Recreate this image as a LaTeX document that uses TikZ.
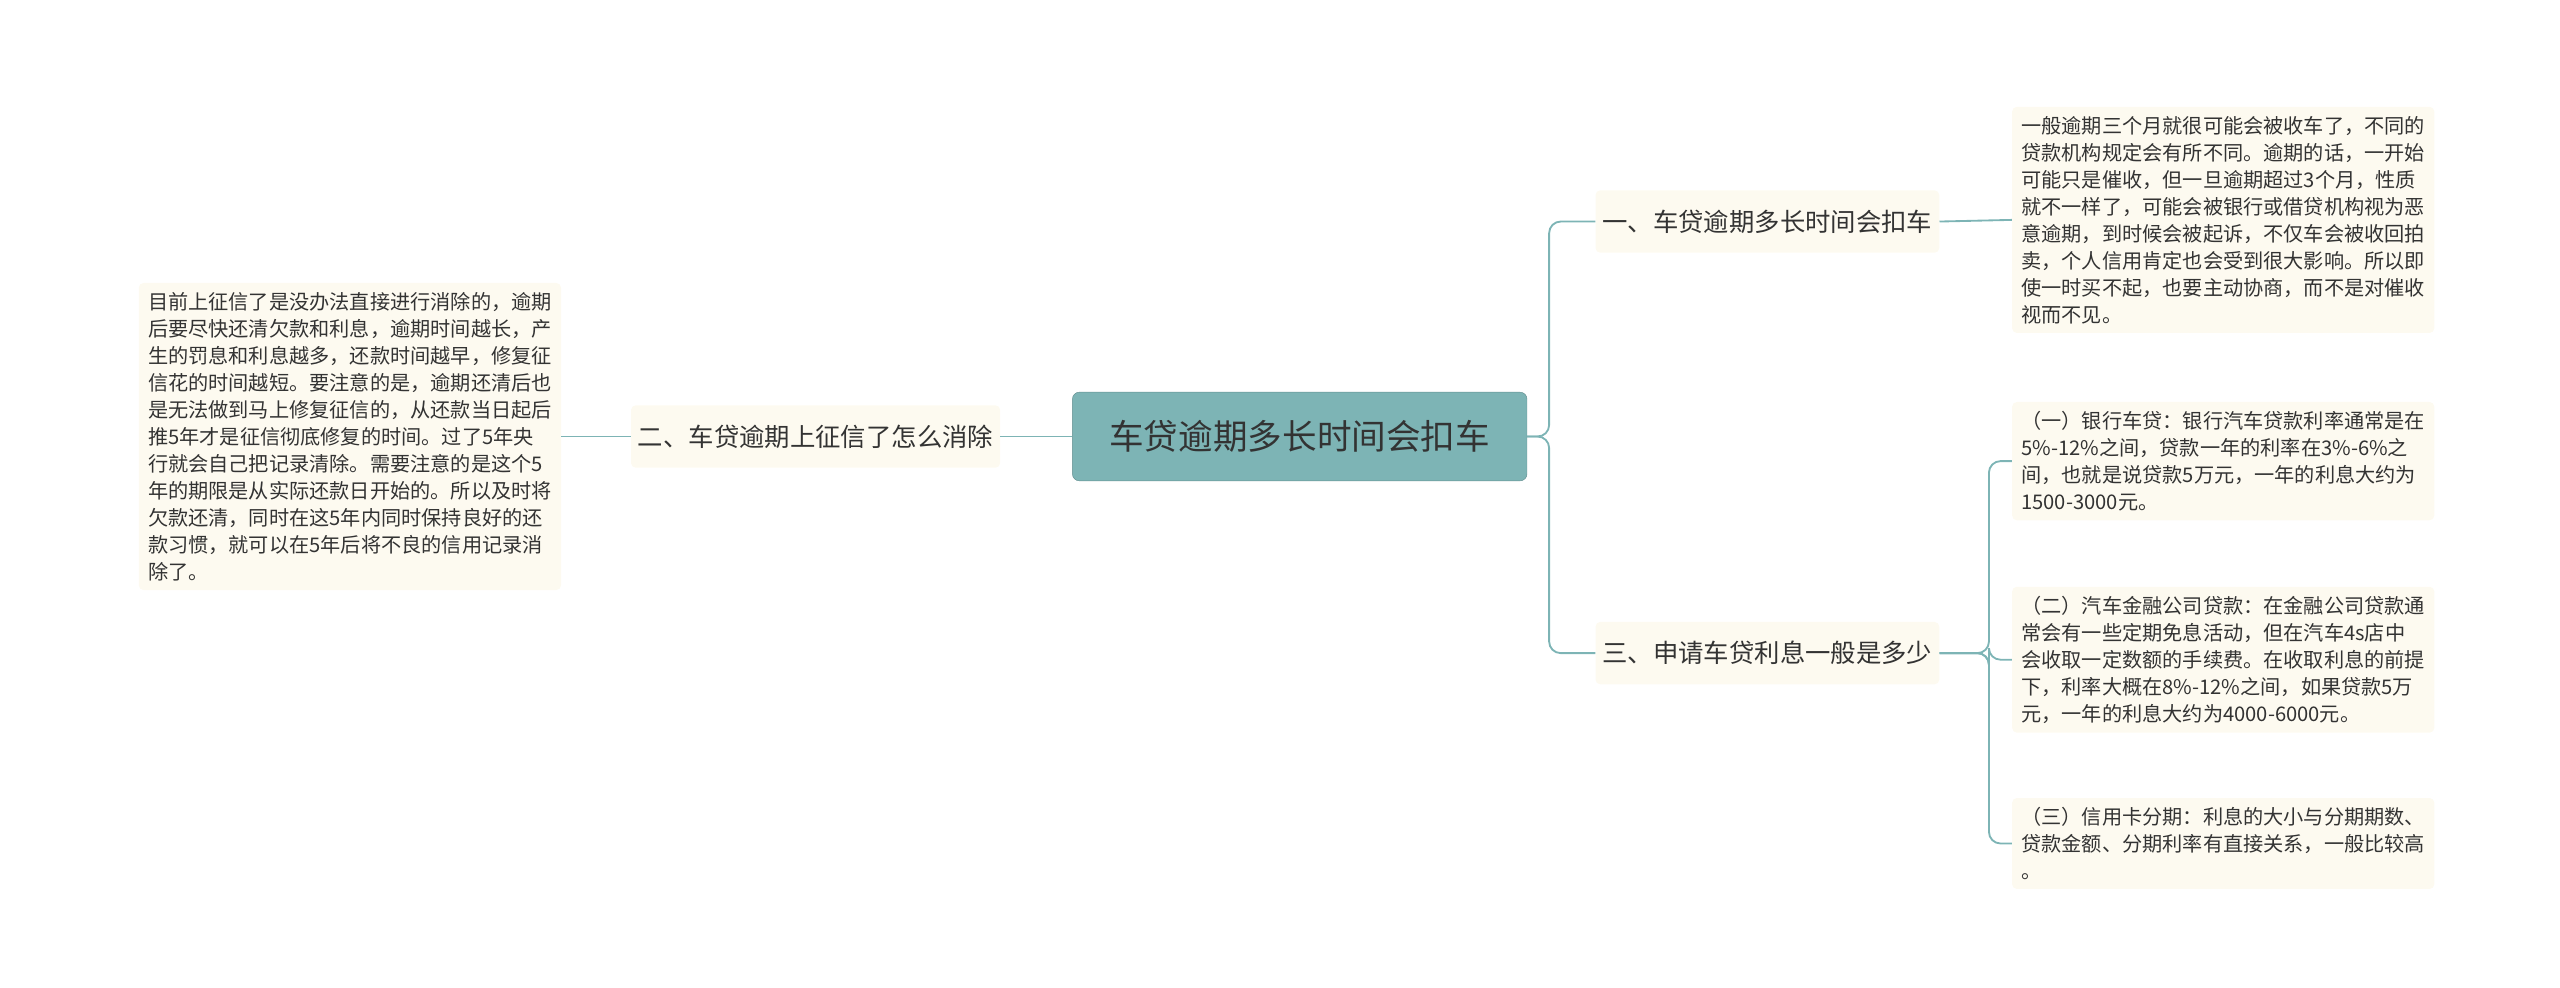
\documentclass[tikz,border=0pt]{standalone}
\usepackage{fontspec}
\setmainfont{Noto Sans CJK SC}
\usetikzlibrary{positioning}
\definecolor{teal1}{HTML}{7DB4B5}
\definecolor{cream}{HTML}{FDFAF0}
\definecolor{ink}{HTML}{333333}
\tikzset{
  rootbox/.style={fill=teal1,draw=teal1!80!black,rounded corners=6pt,minimum width=277*0.05cm,minimum height=54*0.05cm,font=\fontsize{30}{36}\selectfont,text=ink},
  branchbox/.style={fill=cream,rounded corners=4pt,minimum height=38*0.05cm,inner xsep=6pt,font=\fontsize{22}{28}\selectfont,text=ink},
  leafbox/.style={fill=cream,rounded corners=4pt,align=left,inner xsep=8pt,inner ysep=8pt,font=\fontsize{17.5}{23.4}\selectfont,text=ink,anchor=west},
  link/.style={draw=teal1,line width=1.6pt,rounded corners=10pt}
}
\begin{document}
\begin{tikzpicture}[x=0.05cm,y=-0.05cm]
\useasboundingbox (0,0) rectangle (1560,602);

\node[rootbox] (root) at (792,266) {车贷逾期多长时间会扣车};
\node[branchbox] (b1) at (1077,135) {一、车贷逾期多长时间会扣车};
\node[branchbox] (b2) at (497,266) {二、车贷逾期上征信了怎么消除};
\node[branchbox] (b3) at (1077,398) {三、申请车贷利息一般是多少};

\node[leafbox] (l1) at (1226,134) {一般逾期三个月就很可能会被收车了，不同的\\贷款机构规定会有所不同。逾期的话，一开始\\可能只是催收，但一旦逾期超过3个月，性质\\就不一样了，可能会被银行或借贷机构视为恶\\意逾期，到时候会被起诉，不仅车会被收回拍\\卖，个人信用肯定也会受到很大影响。所以即\\使一时买不起，也要主动协商，而不是对催收\\视而不见。};
\node[leafbox,anchor=east] (l2) at (342,266) {目前上征信了是没办法直接进行消除的，逾期\\后要尽快还清欠款和利息，逾期时间越长，产\\生的罚息和利息越多，还款时间越早，修复征\\信花的时间越短。要注意的是，逾期还清后也\\是无法做到马上修复征信的，从还款当日起后\\推5年才是征信彻底修复的时间。过了5年央\\行就会自己把记录清除。需要注意的是这个5\\年的期限是从实际还款日开始的。所以及时将\\欠款还清，同时在这5年内同时保持良好的还\\款习惯，就可以在5年后将不良的信用记录消\\除了。};
\node[leafbox] (l3) at (1226,281) {（一）银行车贷：银行汽车贷款利率通常是在\\5\%-12\%之间，贷款一年的利率在3\%-6\%之\\间，也就是说贷款5万元，一年的利息大约为\\1500-3000元。};
\node[leafbox] (l4) at (1226,402) {（二）汽车金融公司贷款：在金融公司贷款通\\常会有一些定期免息活动，但在汽车4s店中\\会收取一定数额的手续费。在收取利息的前提\\下，利率大概在8\%-12\%之间，如果贷款5万\\元，一年的利息大约为4000-6000元。};
\node[leafbox] (l5) at (1226,514) {（三）信用卡分期：利息的大小与分期期数、\\贷款金额、分期利率有直接关系，一般比较高\\。};

\draw[link] (root.east) -- (944,266) |- (b1.west);
\draw[link] (root.east) -- (944,266) |- (b3.west);
\draw[link] (root.west) -- (b2.east);
\draw[link] (b2.west) -- (l2.east);
\draw[link] (b1.east) -- (l1.west);
\draw[link] (b3.east) -- (1212,398) |- (l3.west);
\draw[link] (b3.east) -- (1212,398) |- (l4.west);
\draw[link] (b3.east) -- (1212,398) |- (l5.west);
\end{tikzpicture}
\end{document}
